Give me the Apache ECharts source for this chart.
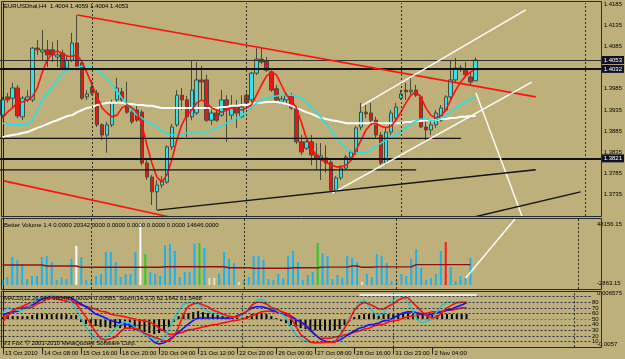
<!DOCTYPE html>
<html><head><meta charset="utf-8">
<script src="https://cdn.jsdelivr.net/npm/echarts@6/dist/echarts.min.js"></script>
<style>html,body{margin:0;padding:0;background:#bdb07a}#c{width:625px;height:359px}</style>
</head><body><div id="c"></div>
<script>
// ---------- DATA ----------
const xLabels = ['13 Oct 2010','14 Oct 08:00','15 Oct 16:00','18 Oct 20:00','20 Oct 04:00','21 Oct 12:00','22 Oct 20:00','26 Oct 00:00','27 Oct 08:00','28 Oct 16:00','31 Oct 23:00','2 Nov 04:00'];
const priceTicks = [1.4185,1.4135,1.4085,1.4035,1.3985,1.3935,1.3885,1.3835,1.3785,1.3735,1.3685];
// [open, close, low, high]
const candles = [
[1.3923,1.3959,1.3916,1.3966],[1.3966,1.3959,1.3952,1.3975],[1.3963,1.3987,1.3940,1.3999],[1.3987,1.3921,1.3916,1.3994],
[1.3919,1.3963,1.3911,1.3968],[1.3959,1.3966,1.3954,1.3982],[1.3959,1.4081,1.3954,1.4084],[1.4081,1.4077,1.4065,1.4100],
[1.4072,1.4077,1.4053,1.4124],[1.4077,1.4065,1.4036,1.4100],[1.4077,1.4065,1.4048,1.4095],[1.4060,1.4065,1.4036,1.4100],
[1.4069,1.4034,1.4029,1.4077],[1.4034,1.4053,1.4029,1.4065],[1.4053,1.4093,1.4048,1.4117],[1.4093,1.4034,1.4029,1.4159],
[1.4046,1.3963,1.3959,1.4053],[1.3966,1.3973,1.3959,1.3982],[1.3989,1.3975,1.3970,1.4006],[1.3975,1.3900,1.3895,1.3982],
[1.3900,1.3876,1.3864,1.3904],[1.3876,1.3900,1.3834,1.3907],[1.3900,1.3952,1.3895,1.3959],[1.3959,1.3987,1.3954,1.4011],
[1.3978,1.3959,1.3952,1.3987],[1.3942,1.3930,1.3926,1.4001],[1.3930,1.3907,1.3902,1.3940],[1.3935,1.3911,1.3907,1.3947],
[1.3930,1.3810,1.3805,1.3935],[1.3810,1.3777,1.3770,1.3817],[1.3777,1.3742,1.3711,1.3782],[1.3742,1.3758,1.3699,1.3770],
[1.3758,1.3770,1.3751,1.3779],[1.3765,1.3848,1.3761,1.3852],[1.3848,1.3895,1.3841,1.3902],[1.3900,1.3970,1.3895,1.3982],
[1.3970,1.3959,1.3935,1.3987],[1.3959,1.3919,1.3871,1.3968],[1.3919,1.3982,1.3911,1.4053],[1.3928,1.4006,1.3923,1.4048],
[1.4006,1.4001,1.3959,1.4039],[1.4006,1.3911,1.3907,1.4018],[1.3911,1.3928,1.3900,1.3935],[1.3928,1.3911,1.3907,1.3935],
[1.3923,1.3959,1.3919,1.3982],[1.3959,1.3935,1.3860,1.3970],[1.3923,1.3942,1.3911,1.3970],[1.3942,1.3928,1.3893,1.3959],
[1.3919,1.3942,1.3916,1.3970],[1.3970,1.3952,1.3945,1.3982],[1.3959,1.4022,1.3954,1.4025],[1.4022,1.4055,1.4018,1.4081],
[1.4055,1.4048,1.4044,1.4081],[1.4051,1.4029,1.4025,1.4060],[1.4025,1.3982,1.3978,1.4029],[1.3985,1.3959,1.3954,1.3994],
[1.3954,1.3961,1.3949,1.3970],[1.3959,1.3970,1.3945,1.3975],[1.3968,1.3940,1.3935,1.3975],[1.3940,1.3860,1.3855,1.3945],
[1.3860,1.3836,1.3829,1.3876],[1.3845,1.3860,1.3841,1.3864],[1.3860,1.3829,1.3805,1.3876],[1.3829,1.3822,1.3794,1.3857],
[1.3822,1.3827,1.3770,1.3857],[1.3822,1.3810,1.3787,1.3852],[1.3812,1.3746,1.3744,1.3817],[1.3746,1.3775,1.3739,1.3779],
[1.3775,1.3798,1.3770,1.3805],[1.3798,1.3824,1.3794,1.3829],[1.3824,1.3836,1.3817,1.3841],[1.3836,1.3893,1.3829,1.3897],
[1.3895,1.3930,1.3888,1.3952],[1.3930,1.3926,1.3916,1.3947],[1.3928,1.3911,1.3904,1.3952],[1.3911,1.3876,1.3869,1.3919],
[1.3876,1.3810,1.3805,1.3883],[1.3810,1.3883,1.3805,1.3893],[1.3883,1.3928,1.3876,1.3935],[1.3916,1.3942,1.3911,1.3952],
[1.3963,1.3973,1.3959,1.3982],[1.3982,1.3978,1.3959,1.3999],[1.3978,1.3982,1.3970,1.4011],[1.3982,1.3970,1.3966,1.3994],
[1.3966,1.3895,1.3893,1.3970],[1.3895,1.3888,1.3864,1.3907],[1.3888,1.3900,1.3876,1.3911],[1.3900,1.3928,1.3893,1.3935],
[1.3911,1.3940,1.3907,1.3947],[1.3935,1.3966,1.3930,1.3970],[1.3966,1.4006,1.3959,1.4053],[1.4006,1.4034,1.4001,1.4058],
[1.4032,1.4034,1.4025,1.4041],[1.4029,1.4018,1.4013,1.4048],[1.4013,1.4001,1.3994,1.4025],[1.4004,1.4053,1.4004,1.4059]
];
const maFast = [1.3916,1.3930,1.3940,1.3952,1.3954,1.3959,1.3966,1.3987,1.4025,1.4053,1.4069,1.4074,1.4069,1.4062,1.4062,1.4065,1.4048,1.4022,1.3994,1.3966,1.3940,1.3928,1.3919,1.3923,1.3940,1.3947,1.3940,1.3930,1.3900,1.3852,1.3810,1.3777,1.3765,1.3782,1.3817,1.3864,1.3900,1.3923,1.3935,1.3952,1.3959,1.3952,1.3940,1.3935,1.3930,1.3935,1.3940,1.3935,1.3935,1.3940,1.3947,1.3970,1.3994,1.4015,1.4025,1.4018,1.3994,1.3970,1.3959,1.3940,1.3907,1.3869,1.3845,1.3829,1.3817,1.3812,1.3805,1.3801,1.3801,1.3805,1.3817,1.3841,1.3864,1.3888,1.3902,1.3904,1.3897,1.3893,1.3897,1.3911,1.3930,1.3952,1.3970,1.3978,1.3966,1.3940,1.3923,1.3916,1.3921,1.3935,1.3959,1.3982,1.4001,1.4015,1.4025,1.4032];
const maMid = [1.3904,1.3902,1.3900,1.3900,1.3900,1.3902,1.3911,1.3935,1.3959,1.3975,1.3989,1.4006,1.4020,1.4029,1.4034,1.4036,1.4039,1.4039,1.4036,1.4029,1.4020,1.4008,1.3994,1.3978,1.3963,1.3949,1.3935,1.3923,1.3916,1.3907,1.3902,1.3895,1.3886,1.3878,1.3876,1.3876,1.3878,1.3881,1.3881,1.3881,1.3881,1.3883,1.3886,1.3893,1.3897,1.3904,1.3911,1.3916,1.3921,1.3933,1.3942,1.3952,1.3959,1.3963,1.3966,1.3968,1.3970,1.3970,1.3970,1.3968,1.3963,1.3954,1.3942,1.3930,1.3916,1.3902,1.3888,1.3871,1.3857,1.3845,1.3838,1.3834,1.3834,1.3836,1.3841,1.3850,1.3857,1.3864,1.3871,1.3878,1.3883,1.3893,1.3902,1.3909,1.3914,1.3914,1.3911,1.3911,1.3916,1.3923,1.3930,1.3940,1.3947,1.3954,1.3961,1.3966];
const maSlow = [1.3871,1.3874,1.3876,1.3878,1.3881,1.3883,1.3888,1.3893,1.3897,1.3902,1.3907,1.3911,1.3916,1.3921,1.3923,1.3930,1.3935,1.3940,1.3942,1.3947,1.3949,1.3952,1.3952,1.3952,1.3952,1.3949,1.3949,1.3947,1.3947,1.3945,1.3945,1.3942,1.3940,1.3940,1.3940,1.3940,1.3940,1.3940,1.3940,1.3940,1.3940,1.3940,1.3940,1.3940,1.3942,1.3942,1.3945,1.3945,1.3947,1.3947,1.3949,1.3952,1.3952,1.3954,1.3954,1.3954,1.3952,1.3949,1.3945,1.3940,1.3935,1.3930,1.3926,1.3921,1.3916,1.3914,1.3911,1.3909,1.3907,1.3904,1.3904,1.3904,1.3904,1.3904,1.3904,1.3904,1.3904,1.3904,1.3904,1.3904,1.3904,1.3907,1.3907,1.3909,1.3909,1.3911,1.3911,1.3911,1.3914,1.3914,1.3916,1.3916,1.3919,1.3919,1.3921,1.3921];
// horizontal lines (price) and drawn trendlines [[barIndex, price], ...]
const bidPrice = 1.4053;
const hLevels = [1.4032, 1.3821];
const levelText = ['1.4053', '1.4032', '1.3821'];
const shortLevels = [[1.3868, 92.06], [1.3794, 83.06]];
const redTrends = [[[15.06,1.4159],[107.06,1.3966]], [[0.26,1.3768],[34.66,1.3680]]];
const whiteTrends = [[[72.06,1.3945],[105.06,1.4171]], [[66.26,1.3739],[106.26,1.4001]], [[95.06,1.3975],[104.46,1.3680]]];
const blackTrends = [[[31.06,1.3699],[107.06,1.3794]], [[93.66,1.3680],[116.06,1.3742]]];
const weekSeparators = [18, 49, 80, 117];
// Better Volume
const volume = [3600,5750,20120,17970,15090,4310,6470,6470,20120,20840,16530,3590,5750,4310,18680,28030,20120,3590,2870,6470,7900,23710,23710,16530,5750,7900,7900,23710,44550,22280,9340,7900,6470,28740,29460,24430,5750,9340,9340,29460,30180,26590,5030,5030,7900,23710,18680,15810,2160,3590,5750,20840,20840,17970,4310,3590,7900,5030,20840,24430,16530,3590,7190,9340,30180,23000,20840,4310,7190,5030,20840,19400,16530,2160,7900,5750,22280,20840,15810,2870,3590,7900,6470,18680,25870,12220,3590,5030,7900,24430,30900,12930,2870,6470,5030,19400];
const climaxLowIdx = [15, 28];
const churnIdx = [29, 40, 64];
const climaxHighIdx = [90];
const lowVolIdx = [42, 43, 48, 73];
const volAvg = [14370,14370,14370,14370,14370,14370,14370,14370,14370,13650,13650,13650,13650,13650,13650,13650,12720,12720,12720,12720,12720,12720,12720,12720,12720,12720,12720,12720,12720,12720,12720,12720,12720,13150,13150,13150,13150,13150,13150,13150,13150,13150,13150,13150,13150,13150,12430,12430,12430,12430,12430,12000,12000,12000,12000,12000,12000,12000,12000,12430,12430,12430,12430,12430,12430,12860,12860,12860,12860,12860,12860,13650,13650,12720,12720,12720,13000,13000,13000,13000,13000,13000,13000,13000,14646,14646,14646,14646,14646,14646,14646,14646,14646,14646,14646,14646];
const volWhite = [[94.06,5040],[104.06,47440]];
const volMaxLabel = '48156.15';
const volMinLabel = '-2863.15';
// MACD / Stochastic
const macdHist = [0.00047,0.00070,0.00070,0.00070,0.00070,0.00070,0.00094,0.00117,0.00117,0.00117,0.00117,0.00117,0.00117,0.00117,0.00094,0.00094,-0.00070,-0.00117,-0.00140,-0.00164,-0.00187,-0.00187,-0.00211,-0.00211,-0.00211,-0.00234,-0.00234,-0.00257,-0.00281,-0.00304,-0.00328,-0.00351,-0.00328,-0.00281,-0.00187,-0.00070,0.00070,0.00117,0.00140,0.00164,0.00187,0.00164,0.00140,0.00117,0.00094,0.00070,0.00047,0.00047,0.00047,0.00023,0.00070,0.00117,0.00140,0.00140,0.00117,0.00070,0.00023,-0.00047,-0.00094,-0.00140,-0.00187,-0.00211,-0.00234,-0.00257,-0.00257,-0.00257,-0.00281,-0.00281,-0.00257,-0.00234,-0.00140,-0.00047,0.00047,0.00094,0.00117,0.00117,0.00117,0.00117,0.00117,0.00117,0.00117,0.00140,0.00140,0.00140,0.00117,0.00117,0.00094,0.00094,0.00094,0.00094,0.00117,0.00117,0.00117,0.00117,0.00117,0.00117];
const stochMain = [61,72,68,66,66,70,80,86,89,91,93,91,89,86,80,68,52,36,24,15,13,16,24,34,41,45,43,36,29,22,18,15,13,16,31,50,64,77,79,79,77,70,64,61,59,57,56,54,54,56,64,75,84,86,80,72,66,61,52,36,22,15,11,9,8,8,8,9,11,16,34,52,64,80,84,73,61,57,61,73,84,93,89,80,64,48,43,47,50,64,75,80,80,80,80,80];
const stochSignal = [45,56,66,70,71,70,71,77,80,86,89,89,89,88,84,77,66,54,41,27,16,13,15,18,27,34,34,34,31,25,22,18,15,11,11,18,36,59,73,77,79,75,72,66,63,59,56,54,54,59,64,75,80,80,77,70,68,64,59,52,38,23,16,9,8,8,9,9,9,20,34,48,66,75,80,77,73,68,68,73,77,84,88,88,79,71,62,55,52,54,62,70,75,79,80,80];
const macdMain = [57,61,63,64,68,72,75,80,86,89,89,89,89,88,88,82,77,72,66,59,56,52,48,45,43,41,40,34,29,24,17,9,6,8,13,20,27,34,41,48,52,52,52,52,52,52,52,52,56,59,64,70,72,72,70,66,64,61,57,54,50,45,40,31,22,15,11,9,11,13,18,24,29,34,36,40,41,43,47,48,52,57,61,63,63,61,59,57,59,61,63,66,68,72,75,79];
const macdSignal = [52,57,63,68,73,77,80,84,86,88,88,86,84,82,80,79,75,73,70,68,64,63,59,57,56,54,52,50,48,47,45,41,34,29,23,23,25,27,31,32,34,36,38,40,41,43,45,47,48,50,52,56,59,63,64,64,63,63,61,56,50,45,38,29,22,16,16,16,18,20,22,23,27,29,32,34,38,40,41,45,47,48,52,54,56,57,59,61,63,63,64,66,66,68,70,70];
const stochLevels = [90,80,70,60,50,40,30,20,10];
const stochLabelsA = [80,60,40,20];
const stochLabelsB = [70,50,30,10];
const macdMaxLabel = '0.006575';
const macdMinLabel = '-0.0057';
const macdWhiteLine = [[73.06,92.9],[97.06,92.9]];
const headerMain = 'EURUSDhal,H4  1.4004 1.4059 1.4004 1.4053';
const headerVol = 'Better Volume 1.4 0.0000 20342.0000 0.0000 0.0000 0.0000 0.0000 14646.0000';
const headerMacd = 'MACD(12,26,9) 0.00048 0.00024 0.00585  Stoch(14,3,3) 62.1642 61.5468';
const footer = 'V3 Fox: \u00a9 2001-2010 MetaQuotes Software Corp.';

// ---------- CHART ----------
const N = 121;
const cats = Array.from({length: N}, (_, i) => String(i));
const FONT = 'Liberation Sans';
const FS = 6;
const txt = {fontFamily: FONT, fontSize: FS, color: '#000', lineHeight: 5};
const gridDefs = [{top: 3, height: 213}, {top: 218, height: 71}, {top: 291, height: 56.3}];
const grids = gridDefs.map(g => ({left: -0.8, width: N * 5, top: g.top, height: g.height, containLabel: false}));
const isLab = (i) => i % 8 === 0 && i / 8 < xLabels.length;
const catAxis = (gi, withLabels) => ({
  type: 'category', gridIndex: gi, data: cats, boundaryGap: true,
  axisLine: {show: false}, splitLine: {show: false},
  axisTick: withLabels ? {show: true, length: 7, lineStyle: {color: '#222'}, alignWithLabel: true, interval: isLab} : {show: false},
  axisLabel: withLabels ? Object.assign({show: true, interval: isLab, align: 'left', margin: 3, padding: [0,0,0,2],
    formatter: (v) => xLabels[Number(v) / 8]}, txt, {lineHeight: 7}) : {show: false}
});
const valAxisX = (gi) => ({type: 'value', gridIndex: gi, min: -0.5, max: N - 0.5, show: false});
const volColor = (i) => climaxLowIdx.includes(i) ? '#ffffff' : churnIdx.includes(i) ? '#22d022' :
  climaxHighIdx.includes(i) ? '#ff1a1a' : lowVolIdx.includes(i) ? '#e6dfc0' : '#1fb1ee';
const vSep = (xi, yi) => ({type: 'line', xAxisIndex: xi, yAxisIndex: yi, data: [[-1, 0]], symbol: 'none', silent: true,
  markLine: {symbol: 'none', silent: true, precision: 6, label: {show: false},
    lineStyle: {color: '#2c2c22', type: [2, 2], width: 1},
    data: weekSeparators.map(x => ({xAxis: x}))}});
const seg = (xi, yi, pts, color, width, z) => ({type: 'line', xAxisIndex: xi, yAxisIndex: yi, data: pts,
  symbol: 'none', silent: true, z: z || 5, lineStyle: {color, width}, clip: true});
const boxLabel = {show: true, position: 'end', distance: -1, formatter: p => levelText[p.dataIndex], color: '#fff',
  backgroundColor: '#10102a', padding: [1, 2, 0, 2], fontFamily: FONT, fontSize: FS, lineHeight: 7};

const series = [];
// main grid
series.push(vSep(3, 0));
series.push({type: 'candlestick', xAxisIndex: 0, yAxisIndex: 0, data: candles, barWidth: 4, z: 2,
  itemStyle: {color: '#2fe4ec', color0: '#ee1414', borderColor: '#4a4a3a', borderColor0: '#4a4a3a', borderWidth: 1}});
series.push({type: 'line', xAxisIndex: 0, yAxisIndex: 0, data: maSlow, symbol: 'none', z: 3, lineStyle: {color: '#ffffff', width: 2}});
series.push({type: 'line', xAxisIndex: 0, yAxisIndex: 0, data: maMid, symbol: 'none', z: 3, lineStyle: {color: '#22e2e6', width: 1.6}});
series.push({type: 'line', xAxisIndex: 0, yAxisIndex: 0, data: maFast, symbol: 'none', z: 4, lineStyle: {color: '#ff1010', width: 1.6}});
shortLevels.forEach(([p, e]) => series.push(seg(3, 0, [[-0.5, p], [e, p]], '#111111', 1.2, 6)));
redTrends.forEach(t => series.push(seg(3, 0, t, '#ff1010', 1.6, 6)));
whiteTrends.forEach(t => series.push(seg(3, 0, t, '#ffffff', 1.4, 6)));
blackTrends.forEach(t => series.push(seg(3, 0, t, '#111111', 1.4, 6)));
// full-width price levels with boxed labels
series.push({type: 'line', xAxisIndex: 3, yAxisIndex: 0, data: [[-1, bidPrice]], symbol: 'none', silent: true, z: 7,
  markLine: {symbol: 'none', silent: true, precision: 6, label: boxLabel,
    data: [{yAxis: bidPrice, lineStyle: {color: '#303030', width: 1, type: 'solid'}}]
      .concat(hLevels.map(p => ({yAxis: p, lineStyle: {color: '#111', width: 2, type: 'solid'}})))}});
// volume grid
series.push(vSep(4, 1));
series.push({type: 'bar', xAxisIndex: 1, yAxisIndex: 1, barWidth: 2, z: 2,
  data: volume.map((v, i) => ({value: v, itemStyle: {color: volColor(i)}}))});
series.push({type: 'line', xAxisIndex: 1, yAxisIndex: 1, data: volAvg, symbol: 'none', z: 3, lineStyle: {color: '#8a1414', width: 1.4}});
series.push(seg(4, 1, volWhite, '#ffffff', 1.4, 6));
// macd grid
series.push(vSep(5, 2));
series.push({type: 'line', xAxisIndex: 5, yAxisIndex: 2, data: [[-1, 0]], symbol: 'none', silent: true,
  markLine: {symbol: 'none', silent: true, precision: 6, label: {show: false},
    data: stochLevels.map(v => ({yAxis: v, lineStyle: {color: v === 50 ? '#7a7a5a' : '#2a2a48', type: [2, 2], width: 1}}))}});
series.push({type: 'bar', xAxisIndex: 2, yAxisIndex: 3, data: macdHist, barWidth: 2, z: 2, itemStyle: {color: '#000'}});
series.push({type: 'line', xAxisIndex: 2, yAxisIndex: 2, data: macdSignal, symbol: 'none', z: 3, lineStyle: {color: '#ff1010', width: 1.6}});
series.push({type: 'line', xAxisIndex: 2, yAxisIndex: 2, data: macdMain, symbol: 'none', z: 3, lineStyle: {color: '#1010ff', width: 1.6}});
series.push({type: 'line', xAxisIndex: 2, yAxisIndex: 2, data: stochMain, symbol: 'none', z: 4, lineStyle: {color: '#30c4c8', width: 1.6}});
series.push({type: 'line', xAxisIndex: 2, yAxisIndex: 2, data: stochSignal, symbol: 'none', z: 4, lineStyle: {color: '#ff1010', width: 1.6}});
series.push(seg(5, 2, macdWhiteLine, '#ffffff', 1.4, 6));

const rightAxis = (gi, extra) => Object.assign({type: 'value', gridIndex: gi, position: 'right', offset: -3,
  axisLine: {show: true, lineStyle: {color: '#111', width: 1}}, axisTick: {show: false}, splitLine: {show: false}}, extra);
const lab = (o) => Object.assign({hideOverlap: false, showMinLabel: true, showMaxLabel: true, margin: 4}, txt, o);

const option = {
  animation: false,
  backgroundColor: '#bdb07a',
  grid: grids,
  xAxis: [catAxis(0, false), catAxis(1, false), catAxis(2, true), valAxisX(0), valAxisX(1), valAxisX(2)],
  yAxis: [
    rightAxis(0, {min: 1.36851, max: 1.41874, axisLabel: lab({customValues: priceTicks, formatter: v => v.toFixed(4)})}),
    rightAxis(1, {min: -2863.15, max: 48156.15, axisLabel: lab({customValues: [43850, 1000], formatter: v => v > 20000 ? volMaxLabel : volMinLabel})}),
    rightAxis(2, {min: 0, max: 100, axisLabel: lab({customValues: stochLabelsA, formatter: v => String(v)})}),
    rightAxis(2, {min: -0.0066, max: 0.006575, axisLine: {show: false}, axisLabel: lab({customValues: [0.0061, -0.0060], margin: 9, formatter: v => v > 0 ? macdMaxLabel : macdMinLabel})}),
    rightAxis(2, {min: 0, max: 100, axisLine: {show: false}, axisLabel: lab({customValues: stochLabelsB, formatter: v => String(v)})})
  ],
  graphic: [
    {type: 'rect', silent: true, z: 100, shape: {x: 1.5, y: 1.5, width: 600, height: 215}, style: {fill: 'none', stroke: '#2a2a2a', lineWidth: 1}},
    {type: 'rect', silent: true, z: 100, shape: {x: 1.5, y: 218.5, width: 600, height: 71}, style: {fill: 'none', stroke: '#2a2a2a', lineWidth: 1}},
    {type: 'rect', silent: true, z: 100, shape: {x: 1.5, y: 291.5, width: 600, height: 56}, style: {fill: 'none', stroke: '#2a2a2a', lineWidth: 1}},
    {type: 'text', silent: true, z: 100, left: 4, top: 3, style: {text: headerMain, fill: '#000', font: FS + 'px "Liberation Sans"'}},
    {type: 'text', silent: true, z: 100, left: 4, top: 222, style: {text: headerVol, fill: '#000', font: FS + 'px "Liberation Sans"'}},
    {type: 'text', silent: true, z: 100, left: 4, top: 295, style: {text: headerMacd, fill: '#000', font: FS + 'px "Liberation Sans"'}},
    {type: 'text', silent: true, z: 100, left: 3, top: 340, style: {text: footer, fill: '#000', font: FS + 'px "Liberation Sans"'}}
  ],
  series
};
const chart = echarts.init(document.getElementById('c'), null, {renderer: 'canvas'});
chart.setOption(option);
</script>
</body></html>
